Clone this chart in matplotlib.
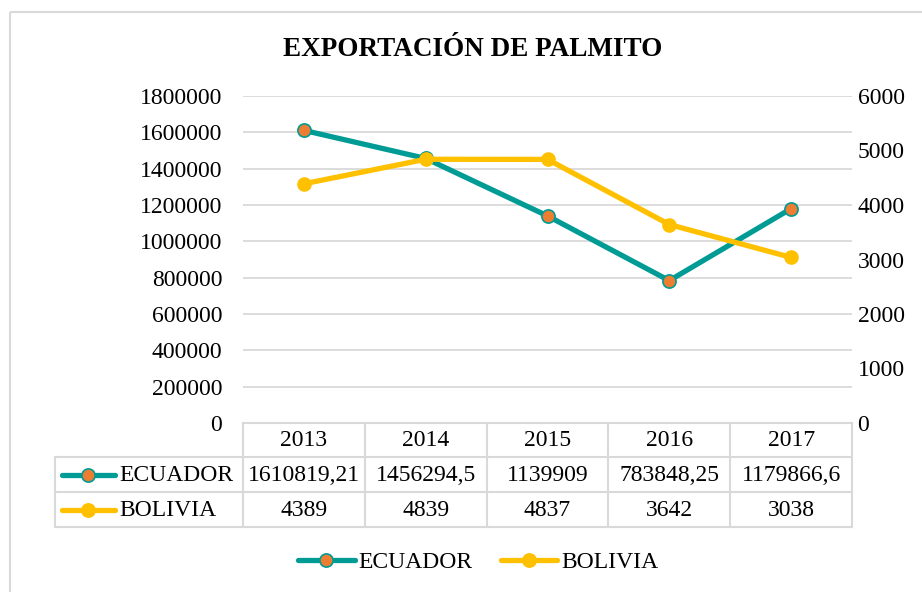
import matplotlib
matplotlib.use("Agg")
import matplotlib.pyplot as plt
from matplotlib.lines import Line2D
from matplotlib.patches import Rectangle
import matplotlib.transforms as mtransforms

# Datos
anios = ["2013", "2014", "2015", "2016", "2017"]
ecuador = [1610819.21, 1456294.5, 1139909, 783848.25, 1179866.6]
bolivia = [4389, 4839, 4837, 3642, 3038]
series = ["ECUADOR", "BOLIVIA"]
ticks_izq = [0, 200000, 400000, 600000, 800000, 1000000, 1200000, 1400000, 1600000, 1800000]
ticks_der = [0, 1000, 2000, 3000, 4000, 5000, 6000]

TEAL = "#009B95"
NARANJA = "#ED7D31"
AMARILLO = "#FFC000"
GRIS = "#D9D9D9"

plt.rcParams["font.family"] = ["Liberation Serif", "DejaVu Serif"]
FS = 17

W, H = 922, 592
fig = plt.figure(figsize=(W / 100, H / 100), dpi=100)

# capa en pixeles para marco, tabla y leyenda
capa = fig.add_axes([0, 0, 1, 1])
capa.set_xlim(0, W)
capa.set_ylim(H, 0)
capa.axis("off")
capa.add_patch(Rectangle((10, 12), 1000, 1000, fill=False, edgecolor=GRIS, lw=1.5))

# area de grafico
x0, x1, ytop, ybot = 243, 852, 96, 423
ax = fig.add_axes([x0 / W, 1 - ybot / H, (x1 - x0) / W, (ybot - ytop) / H])
ax2 = ax.twinx()
x = list(range(len(anios)))

ax.plot(x, ecuador, color=TEAL, lw=3.8, marker="o", ms=9.5, mfc=NARANJA,
        mec=TEAL, mew=1.2, zorder=3)
ax2.plot(x, bolivia, color=AMARILLO, lw=3.8, marker="o", ms=9.5, mfc=AMARILLO,
         mec=AMARILLO, zorder=3)

ax.set_xlim(-0.5, len(anios) - 0.5)
ax.set_ylim(0, 1800000)
ax2.set_ylim(0, 6000)
ax.set_yticks(ticks_izq)
ax.set_yticklabels([str(t) for t in ticks_izq], fontsize=FS)
ax2.set_yticks(ticks_der)
ax2.set_yticklabels([str(t) for t in ticks_der], fontsize=FS)
ax.tick_params(axis="y", length=0, pad=15)
ax2.tick_params(axis="y", length=0, pad=4)
ax.set_xticks([])
ax.grid(axis="y", color=GRIS, lw=1.3)
ax.set_axisbelow(True)
for a in (ax, ax2):
    for s in a.spines.values():
        s.set_visible(False)
ax2.set_zorder(ax.get_zorder() + 1)
ax.patch.set_visible(False)

# titulo
capa.text(473, 49, "EXPORTACIÓN DE PALMITO", fontsize=19.5, fontweight="bold",
          ha="center", va="center")

# tabla de datos
tr = mtransforms.blended_transform_factory(ax.transData, capa.transData)
filas = [423, 457, 492, 527]
izq_tabla = 55
n = len(anios)
lk = dict(color=GRIS, lw=1.5)
capa.plot([x0, x1], [filas[0], filas[0]], **lk)
for yf in filas[1:]:
    capa.plot([izq_tabla, x1], [yf, yf], **lk)
capa.plot([izq_tabla, izq_tabla], [filas[1], filas[3]], **lk)
for i in range(n + 1):
    capa.plot([i - 0.5, i - 0.5], [filas[0], filas[3]], transform=tr, **lk)

for i, a in enumerate(anios):
    capa.text(i, (filas[0] + filas[1]) / 2 + 1, a, transform=tr, fontsize=FS,
              ha="center", va="center")
    capa.text(i, (filas[1] + filas[2]) / 2 + 1, f"{ecuador[i]:.10g}".replace(".", ","),
              transform=tr, fontsize=FS, ha="center", va="center")
    capa.text(i, (filas[2] + filas[3]) / 2 + 1, f"{bolivia[i]:.10g}".replace(".", ","),
              transform=tr, fontsize=FS, ha="center", va="center")

estilos = [dict(color=TEAL, mfc=NARANJA, mec=TEAL), dict(color=AMARILLO, mfc=AMARILLO, mec=AMARILLO)]
for k, (nombre, est) in enumerate(zip(series, estilos)):
    yc = (filas[k + 1] + filas[k + 2]) / 2
    capa.plot([62, 115], [yc, yc], lw=3.8, solid_capstyle="round", **{"color": est["color"]})
    capa.plot([88], [yc], marker="o", ms=9.5, mfc=est["mfc"], mec=est["mec"], mew=1.2)
    capa.text(119, yc + 1, nombre, fontsize=FS, ha="left", va="center")

# leyenda inferior
handles = [Line2D([], [], lw=3.8, marker="o", ms=9.5, mew=1.2, solid_capstyle="round", **e)
           for e in estilos]
fig.legend(handles, series, loc="center", bbox_to_anchor=(478 / W, 1 - 562 / H), ncol=2,
           frameon=False, fontsize=FS, handlelength=2.4, handletextpad=0.15,
           columnspacing=1.2)

fig.savefig("out.png", dpi=100)
